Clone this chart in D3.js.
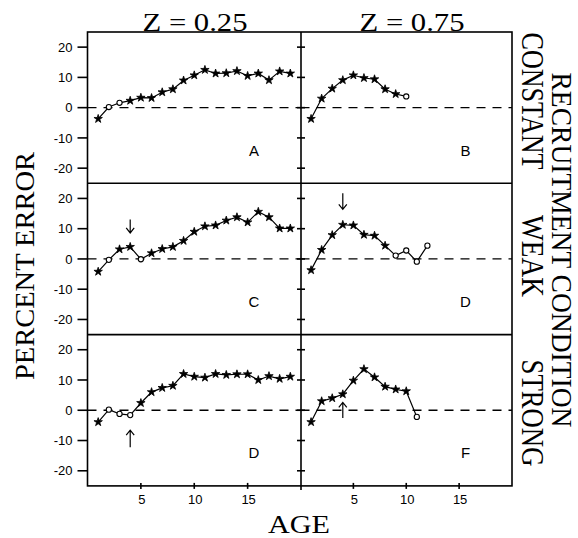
<!DOCTYPE html>
<meta charset="utf-8">

<!-- Load d3.js -->
<script src="https://d3js.org/d3.v7.min.js"></script>

<style>
body { margin: 0; background: #fff; }
.tick-label { font-family: "Liberation Sans", Arial, sans-serif; font-size: 13px; fill: #000; }
.big-label { font-family: "Liberation Serif", "Times New Roman", serif; fill: #000; }
</style>

<!-- Create a div where the graph will take place -->
<div id="my_dataviz"></div>

<script>

// ---- data ----
var ages = [1, 2, 3, 4, 5, 6, 7, 8, 9, 10, 11, 12, 13, 14, 15, 16, 17, 18, 19];

var constantZ25 = [-3.7, 0.2, 1.6, 2.3, 3.3, 3.2, 5.1, 6.1, 9.0, 10.7, 12.5, 11.3, 11.4, 12.1, 10.5, 11.3, 9.1, 12.0, 11.3];
var constantZ75 = [-3.7, 3.0, 6.3, 9.1, 10.7, 9.8, 9.4, 6.1, 4.5, 3.7];
var weakZ25     = [-4.2, -0.3, 3.2, 4.0, -0.1, 1.9, 3.3, 4.0, 6.0, 9.0, 10.8, 11.1, 12.7, 13.8, 12.1, 15.6, 13.8, 10.1, 10.1];
var weakZ75     = [-3.7, 3.0, 7.9, 11.3, 11.1, 8.0, 7.7, 4.4, 1.1, 2.8, -0.9, 4.4];
var strongZ25   = [-3.9, 0.2, -1.2, -1.6, 2.4, 6.0, 7.4, 8.1, 12.0, 11.1, 10.8, 12.0, 11.7, 11.9, 11.9, 10.0, 11.3, 10.4, 11.1];
var strongZ75   = [-3.9, 3.0, 4.0, 5.3, 9.8, 13.6, 10.9, 7.8, 6.9, 6.3, -2.2];

// ages plotted as open circles (all others are stars)
var openConstantZ25 = [2, 3];
var openConstantZ75 = [10];
var openWeakZ25     = [2, 5];
var openWeakZ75     = [9, 10, 11, 12];
var openStrongZ25   = [2, 3, 4];
var openStrongZ75   = [11];

var panelLetters = ["A", "B", "C", "D", "D", "F"];
var zLabels = ["Z = 0.25", "Z = 0.75"];
var conditions = ["CONSTANT", "WEAK", "STRONG"];
var yTicks = [20, 10, 0, -10, -20];
var xTicks = [5, 10, 15];

// arrows: panel index, age, start value, tip value
var arrowPanels = [2, 3, 4, 5];
var arrowAges   = [4, 4, 4, 4];
var arrowFrom   = [13.0, 21.7, -12.2, -2.6];
var arrowTo     = [8.6, 16.4, -6.6, 2.6];

var panels = [
  {values: constantZ25, open: openConstantZ25},
  {values: constantZ75, open: openConstantZ75},
  {values: weakZ25,     open: openWeakZ25},
  {values: weakZ75,     open: openWeakZ75},
  {values: strongZ25,   open: openStrongZ25},
  {values: strongZ75,   open: openStrongZ75}
];

// ---- layout ----
var W = 578, H = 538;
var leftX = 87.5, midX = 301, rightX = 512;
var topY = 32, rowH = 151.3;
var bottomY = topY + 3 * rowH;

var svg = d3.select("#my_dataviz")
  .append("svg")
    .attr("width", W)
    .attr("height", H);

var xScales = [
  d3.scaleLinear().domain([0, 20]).range([leftX, midX]),
  d3.scaleLinear().domain([0, 20]).range([midX - 0.5, rightX])
];
var yScales = [0, 1, 2].map(function(r) {
  return d3.scaleLinear().domain([-25, 25]).range([topY + (r + 1) * rowH, topY + r * rowH]);
});

// column titles (drawn first, frame sits on their baseline)
svg.selectAll("ztitle")
  .data(zLabels)
  .enter()
  .append("text")
    .attr("class", "big-label")
    .attr("x", function(d, i) { return i == 0 ? 195 : 412; })
    .attr("y", topY - 1)
    .attr("text-anchor", "middle")
    .attr("font-size", 25)
    .attr("textLength", 105)
    .attr("lengthAdjust", "spacingAndGlyphs")
    .text(function(d) { return d; });

panels.forEach(function(p, i) {
  var col = i % 2, row = Math.floor(i / 2);
  var x = xScales[col], y = yScales[row];
  var g = svg.append("g");

  // zero reference line
  g.append("line")
    .attr("x1", x.range()[0]).attr("x2", x.range()[1])
    .attr("y1", y(0)).attr("y2", y(0))
    .attr("stroke", "#000")
    .attr("stroke-width", 1.3)
    .attr("stroke-dasharray", "9,7");

  var pts = p.values.map(function(v, k) { return {age: ages[k], v: v}; });

  g.append("path")
    .datum(pts)
    .attr("fill", "none")
    .attr("stroke", "#000")
    .attr("stroke-width", 1.2)
    .attr("d", d3.line().x(function(d) { return x(d.age); }).y(function(d) { return y(d.v); }));

  var star = d3.symbol().type(d3.symbolStar).size(22);
  g.selectAll("star")
    .data(pts.filter(function(d) { return p.open.indexOf(d.age) < 0; }))
    .enter()
    .append("path")
      .attr("d", star)
      .attr("transform", function(d) { return "translate(" + x(d.age) + "," + y(d.v) + ")"; })
      .attr("fill", "#000")
      .attr("stroke", "#000")
      .attr("stroke-width", 0.8);

  g.selectAll("opendot")
    .data(pts.filter(function(d) { return p.open.indexOf(d.age) >= 0; }))
    .enter()
    .append("circle")
      .attr("cx", function(d) { return x(d.age); })
      .attr("cy", function(d) { return y(d.v); })
      .attr("r", 2.6)
      .attr("fill", "#fff")
      .attr("stroke", "#000")
      .attr("stroke-width", 1.1);

  // panel letter
  g.append("text")
    .attr("x", x(15.6))
    .attr("y", y(-14))
    .attr("text-anchor", "middle")
    .attr("dominant-baseline", "central")
    .style("font-family", "'Liberation Sans', Arial, sans-serif")
    .style("font-size", "15px")
    .text(panelLetters[i]);
});

// arrows
arrowPanels.forEach(function(pi, k) {
  var x = xScales[pi % 2], y = yScales[Math.floor(pi / 2)];
  var ax = x(arrowAges[k]), y1 = y(arrowFrom[k]), y2 = y(arrowTo[k]);
  var dir = y2 > y1 ? 1 : -1;
  svg.append("path")
    .attr("d", "M" + ax + "," + y1 + "L" + ax + "," + y2 +
               "M" + (ax - 4) + "," + (y2 - dir * 5) + "L" + ax + "," + y2 + "L" + (ax + 4) + "," + (y2 - dir * 5))
    .attr("fill", "none")
    .attr("stroke", "#000")
    .attr("stroke-width", 1.2);
});

// frame
var frame = svg.append("g").attr("stroke", "#000").attr("stroke-width", 1.6).attr("fill", "none");
frame.append("rect").attr("x", leftX).attr("y", topY).attr("width", rightX - leftX).attr("height", bottomY - topY);
frame.append("line").attr("x1", midX).attr("x2", midX).attr("y1", topY).attr("y2", bottomY + 4);
[1, 2].forEach(function(r) {
  frame.append("line").attr("x1", leftX).attr("x2", rightX)
    .attr("y1", topY + r * rowH).attr("y2", topY + r * rowH);
});

// y ticks: outward on the left edge, crossing on the middle divider
yScales.forEach(function(y) {
  yTicks.forEach(function(t) {
    frame.append("line").attr("x1", leftX - 10).attr("x2", leftX).attr("y1", y(t)).attr("y2", y(t));
    frame.append("line").attr("x1", midX - 4).attr("x2", midX + 4).attr("y1", y(t)).attr("y2", y(t));
  });
  svg.selectAll("ylab")
    .data(yTicks)
    .enter()
    .append("text")
      .attr("class", "tick-label")
      .attr("x", leftX - 15)
      .attr("y", function(d) { return y(d); })
      .attr("dy", "0.36em")
      .attr("text-anchor", "end")
      .text(function(d) { return d; });
});

// x ticks
xScales.forEach(function(x) {
  xTicks.forEach(function(t) {
    frame.append("line").attr("x1", x(t)).attr("x2", x(t)).attr("y1", bottomY - 3).attr("y2", bottomY + 3);
  });
  svg.selectAll("xlab")
    .data(xTicks)
    .enter()
    .append("text")
      .attr("class", "tick-label")
      .attr("x", function(d) { return x(d) + 1; })
      .attr("y", bottomY + 18)
      .attr("text-anchor", "middle")
      .text(function(d) { return d; });
});

// axis titles
svg.append("text")
  .attr("class", "big-label")
  .attr("x", 299)
  .attr("y", 533)
  .attr("text-anchor", "middle")
  .attr("font-size", 26)
  .attr("textLength", 62)
  .attr("lengthAdjust", "spacingAndGlyphs")
  .text("AGE");

svg.append("text")
  .attr("class", "big-label")
  .attr("transform", "translate(34,266) rotate(-90)")
  .attr("text-anchor", "middle")
  .attr("font-size", 28)
  .attr("textLength", 228)
  .attr("lengthAdjust", "spacingAndGlyphs")
  .text("PERCENT ERROR");

// row labels on the right
var condLen = [137, 82, 107];
svg.selectAll("cond")
  .data(conditions)
  .enter()
  .append("text")
    .attr("class", "big-label")
    .attr("transform", function(d, i) {
      var cy = [101, 256, 413][i];
      return "translate(522," + cy + ") rotate(90)";
    })
    .attr("text-anchor", "middle")
    .attr("font-size", 32)
    .attr("textLength", function(d, i) { return condLen[i]; })
    .attr("lengthAdjust", "spacingAndGlyphs")
    .text(function(d) { return d; });

svg.append("text")
  .attr("class", "big-label")
  .attr("transform", "translate(552,250) rotate(90)")
  .attr("text-anchor", "middle")
  .attr("font-size", 29)
  .attr("textLength", 355)
  .attr("lengthAdjust", "spacingAndGlyphs")
  .text("RECRUITMENT CONDITION");

</script>
